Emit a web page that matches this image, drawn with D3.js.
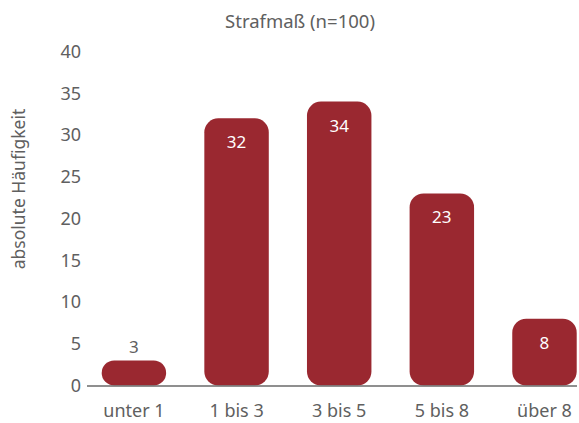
<!DOCTYPE html>
<html>
<head>
<meta charset="utf-8">
<script src="https://cdn.jsdelivr.net/npm/d3@7"></script>
<style>
  body { margin: 0; background: #fff; }
  text { font-family: "Noto Sans", "Open Sans", sans-serif; }
</style>
</head>
<body>
<svg id="chart" width="579" height="423"></svg>
<script>
const categories = ["unter 1", "1 bis 3", "3 bis 5", "5 bis 8", "über 8"];
const counts = [3, 32, 34, 23, 8];
const yTicks = [0, 5, 10, 15, 20, 25, 30, 35, 40];

const BAR_COLOR = "#9a2830";
const TEXT_COLOR = "#606060";
const FONT = "'Noto Sans', 'Open Sans', sans-serif";

const svg = d3.select("#chart");

// scales
const x = d3.scaleBand()
  .domain(categories)
  .range([82.6, 595.8])
  .paddingInner(0.372)
  .paddingOuter(0.186);

const y = d3.scaleLinear().domain([0, 40]).range([385.5, 51.5]);

// title
svg.append("text")
  .attr("x", 300).attr("y", 28)
  .attr("text-anchor", "middle")
  .attr("font-size", 18.5)
  .attr("fill", TEXT_COLOR)
  .text("Strafmaß (n=100)");

// y axis label
svg.append("text")
  .attr("transform", `translate(25,189) rotate(-90)`)
  .attr("text-anchor", "middle")
  .attr("font-size", 17.5)
  .attr("fill", TEXT_COLOR)
  .text("absolute Häufigkeit");

// y tick labels (no axis line)
const yAxis = svg.append("g")
  .attr("transform", "translate(81,0)")
  .call(d3.axisLeft(y).tickValues(yTicks).tickSize(0).tickPadding(0));
yAxis.select(".domain").remove();
yAxis.selectAll("text")
  .attr("font-size", 18)
  .attr("fill", TEXT_COLOR)
  .style("font-family", FONT);

// bars
const bw = x.bandwidth();
svg.append("g").selectAll("rect")
  .data(counts)
  .join("rect")
  .attr("x", (d, i) => x(categories[i]))
  .attr("y", d => y(d))
  .attr("width", bw)
  .attr("height", d => y(0) - y(d))
  .attr("rx", d => Math.min(14, (y(0) - y(d)) / 2))
  .attr("fill", BAR_COLOR);

// x axis
const xAxis = svg.append("g")
  .attr("transform", `translate(0,${y(0)})`)
  .call(d3.axisBottom(x).tickSize(0).tickPadding(19));
xAxis.select(".domain")
  .attr("d", `M87,0.5H577`)
  .attr("stroke", "#6a6a6a")
  .attr("stroke-width", 1.5);
xAxis.selectAll("text")
  .attr("font-size", 18)
  .attr("fill", TEXT_COLOR)
  .style("font-family", FONT);

// value labels
svg.append("g").selectAll("text")
  .data(counts)
  .join("text")
  .attr("x", (d, i) => x(categories[i]) + bw / 2)
  .attr("y", d => (y(0) - y(d)) > 40 ? y(d) + 30 : y(d) - 7)
  .attr("text-anchor", "middle")
  .attr("font-size", 17)
  .attr("fill", d => (y(0) - y(d)) > 40 ? "#ffffff" : TEXT_COLOR)
  .text(d => d);
</script>
</body>
</html>
